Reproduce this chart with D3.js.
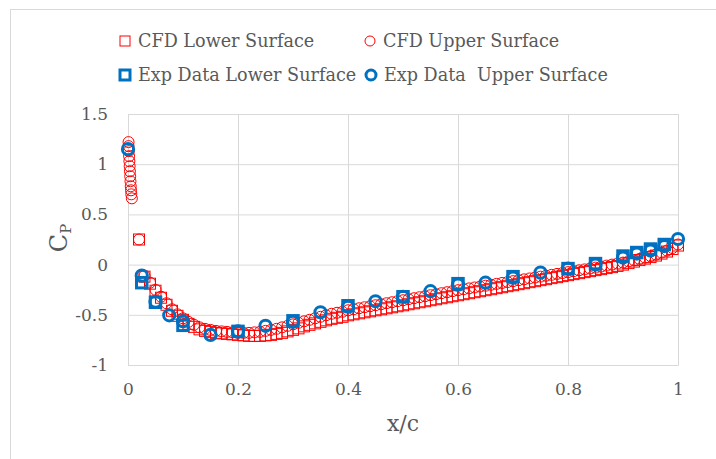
<!DOCTYPE html>
<html>
<head>
<meta charset="utf-8">
<script src="https://cdn.jsdelivr.net/npm/d3@7/dist/d3.min.js"></script>
<style>
  body { margin: 0; background: #fff; }
  svg text { font-family: "DejaVu Serif", serif; fill: #595959; }
</style>
</head>
<body>
<svg id="chart" width="716" height="459"></svg>
<script>
// CFD sample stations (x/c)
const cfdX = [0.02,0.03,0.04,0.05,0.06,0.07,0.08,0.09,0.10,0.11,0.12,0.13,0.14,0.15,0.16,0.17,0.18,0.19,0.20,
  0.21,0.22,0.23,0.24,0.25,0.26,0.27,0.28,0.29,0.30,0.31,0.32,0.33,0.34,0.35,0.36,0.37,0.38,0.39,0.40,
  0.41,0.42,0.43,0.44,0.45,0.46,0.47,0.48,0.49,0.50,0.51,0.52,0.53,0.54,0.55,0.56,0.57,0.58,0.59,0.60,
  0.61,0.62,0.63,0.64,0.65,0.66,0.67,0.68,0.69,0.70,0.71,0.72,0.73,0.74,0.75,0.76,0.77,0.78,0.79,0.80,
  0.81,0.82,0.83,0.84,0.85,0.86,0.87,0.88,0.89,0.90,0.91,0.92,0.93,0.94,0.95,0.96,0.97,0.98,0.99,1.00];

const cfdLowerCp = [0.25,-0.12,-0.19,-0.26,-0.33,-0.40,-0.46,-0.51,-0.55,-0.59,-0.62,-0.645,-0.66,-0.67,-0.68,-0.685,-0.69,-0.695,-0.70,
  -0.705,-0.71,-0.71,-0.71,-0.705,-0.70,-0.69,-0.68,-0.665,-0.65,-0.635,-0.615,-0.60,-0.585,-0.57,-0.555,-0.54,-0.53,-0.52,-0.505,
  -0.495,-0.485,-0.475,-0.465,-0.455,-0.445,-0.435,-0.425,-0.415,-0.405,-0.395,-0.385,-0.375,-0.365,-0.355,-0.345,-0.335,-0.325,-0.315,-0.305,
  -0.295,-0.285,-0.275,-0.265,-0.255,-0.245,-0.235,-0.225,-0.215,-0.205,-0.195,-0.185,-0.175,-0.165,-0.155,-0.145,-0.135,-0.125,-0.115,-0.105,
  -0.095,-0.085,-0.075,-0.065,-0.055,-0.045,-0.035,-0.025,-0.013,0.0,0.015,0.03,0.045,0.06,0.075,0.09,0.11,0.13,0.155,0.19];

// leading-edge cluster on the upper surface
const cfdUpperLeX = [0.001,0.001,0.0015,0.002,0.0025,0.003,0.0035,0.004,0.0045,0.005,0.0055,0.006,0.007];
const cfdUpperLeCp = [1.22,1.18,1.13,1.08,1.03,0.98,0.93,0.88,0.83,0.78,0.74,0.70,0.66];

const cfdUpperCp = [0.25,-0.11,-0.18,-0.25,-0.32,-0.385,-0.445,-0.495,-0.535,-0.57,-0.60,-0.625,-0.64,-0.65,-0.66,-0.665,-0.67,-0.675,-0.68,
  -0.68,-0.68,-0.675,-0.67,-0.66,-0.65,-0.64,-0.625,-0.61,-0.595,-0.58,-0.565,-0.55,-0.535,-0.52,-0.505,-0.49,-0.48,-0.47,-0.455,
  -0.445,-0.435,-0.425,-0.415,-0.405,-0.395,-0.385,-0.375,-0.365,-0.355,-0.345,-0.335,-0.325,-0.315,-0.305,-0.295,-0.285,-0.275,-0.265,-0.255,
  -0.246,-0.237,-0.228,-0.219,-0.21,-0.201,-0.192,-0.183,-0.174,-0.165,-0.156,-0.147,-0.138,-0.129,-0.12,-0.111,-0.102,-0.093,-0.084,-0.075,
  -0.066,-0.057,-0.048,-0.039,-0.03,-0.02,-0.01,0.0,0.01,0.02,0.032,0.044,0.057,0.07,0.085,0.10,0.12,0.14,0.165,0.20];

// experimental data
const expLowerX = [0.025,0.05,0.1,0.2,0.3,0.4,0.5,0.6,0.7,0.8,0.85,0.9,0.925,0.95,0.975];
const expLowerCp = [-0.18,-0.375,-0.605,-0.665,-0.56,-0.41,-0.32,-0.19,-0.12,-0.04,0.01,0.085,0.12,0.155,0.2];
const expUpperX = [0,0.025,0.05,0.075,0.1,0.15,0.2,0.25,0.3,0.35,0.4,0.45,0.5,0.55,0.6,0.65,0.7,0.75,0.8,0.85,0.9,0.925,0.95,0.975,1.0];
const expUpperCp = [1.15,-0.11,-0.37,-0.505,-0.565,-0.70,-0.665,-0.61,-0.57,-0.475,-0.42,-0.365,-0.32,-0.265,-0.2,-0.18,-0.13,-0.08,-0.04,0.0,0.07,0.11,0.14,0.185,0.255];

const xTicks = [0, 0.2, 0.4, 0.6, 0.8, 1];
const yTicks = [-1, -0.5, 0, 0.5, 1, 1.5];

const red = "#ff0000", blue = "#0070c0", grid = "#d9d9d9";
const margin = { left: 128, right: 38, top: 114, bottom: 94 };
const W = 716, H = 459;

const svg = d3.select("#chart");

// chart area border (clipped by the window)
svg.append("rect")
  .attr("x", 10.5).attr("y", 9.5)
  .attr("width", 760).attr("height", 500)
  .attr("fill", "none").attr("stroke", grid);

const x = d3.scaleLinear().domain([0, 1]).range([margin.left, W - margin.right]);
const y = d3.scaleLinear().domain([-1, 1.5]).range([H - margin.bottom, margin.top]);

// gridlines
svg.append("g")
  .attr("transform", `translate(0,${H - margin.bottom})`)
  .call(d3.axisBottom(x).tickValues(xTicks).tickSize(-(H - margin.top - margin.bottom)).tickFormat(""))
  .call(g => g.select(".domain").attr("stroke", grid))
  .call(g => g.selectAll(".tick line").attr("stroke", grid));

svg.append("g")
  .attr("transform", `translate(${margin.left},0)`)
  .call(d3.axisLeft(y).tickValues(yTicks).tickSize(-(W - margin.left - margin.right)).tickFormat(""))
  .call(g => g.select(".domain").attr("stroke", grid))
  .call(g => g.selectAll(".tick line").attr("stroke", grid));

// tick labels (plain hyphen minus, as in the original)
svg.append("g")
  .attr("transform", `translate(0,${H - margin.bottom})`)
  .call(d3.axisBottom(x).tickValues(xTicks).tickSize(0).tickPadding(18).tickFormat(d => String(d)))
  .call(g => g.select(".domain").remove())
  .call(g => g.selectAll("text").attr("font-size", 17).attr("font-family", "DejaVu Serif"));

svg.append("g")
  .attr("transform", `translate(${margin.left},0)`)
  .call(d3.axisLeft(y).tickValues(yTicks).tickSize(0).tickPadding(20).tickFormat(d => String(d)))
  .call(g => g.select(".domain").remove())
  .call(g => g.selectAll("text").attr("font-size", 17).attr("font-family", "DejaVu Serif"));

// axis titles
svg.append("text")
  .attr("x", (margin.left + W - margin.right) / 2)
  .attr("y", 431)
  .attr("text-anchor", "middle")
  .attr("font-size", 22)
  .text("x/c");

const yt = svg.append("text")
  .attr("transform", "translate(67,238) rotate(-90)")
  .attr("text-anchor", "middle")
  .attr("font-size", 24);
yt.append("tspan").text("C");
yt.append("tspan").attr("font-size", 15).attr("dy", 4).text("P");

// markers
function squares(xs, ys, size, color, sw) {
  svg.append("g").selectAll("rect")
    .data(xs.map((d, i) => [d, ys[i]]))
    .join("rect")
    .attr("x", d => x(d[0]) - size / 2)
    .attr("y", d => y(d[1]) - size / 2)
    .attr("width", size).attr("height", size)
    .attr("fill", "none").attr("stroke", color).attr("stroke-width", sw);
}
function circles(xs, ys, r, color, sw) {
  svg.append("g").selectAll("circle")
    .data(xs.map((d, i) => [d, ys[i]]))
    .join("circle")
    .attr("cx", d => x(d[0]))
    .attr("cy", d => y(d[1]))
    .attr("r", r)
    .attr("fill", "none").attr("stroke", color).attr("stroke-width", sw);
}

squares(cfdX, cfdLowerCp, 11, red, 1);
circles(cfdUpperLeX.concat(cfdX), cfdUpperLeCp.concat(cfdUpperCp), 5.5, red, 1);
squares(expLowerX, expLowerCp, 10.5, blue, 3);
circles(expUpperX, expUpperCp, 5.6, blue, 3);

// legend
const legend = [
  { label: "CFD Lower Surface", shape: "square", color: red, sw: 1, x: 125, y: 41 },
  { label: "CFD Upper Surface", shape: "circle", color: red, sw: 1, x: 370, y: 41 },
  { label: "Exp Data Lower Surface", shape: "square", color: blue, sw: 3, x: 125, y: 75 },
  { label: "Exp Data\u00a0 Upper Surface", shape: "circle", color: blue, sw: 3, x: 371, y: 75 }
];
const lg = svg.append("g").selectAll("g").data(legend).join("g")
  .attr("transform", d => `translate(${d.x},${d.y})`);
lg.filter(d => d.shape === "square").append("rect")
  .attr("x", -5).attr("y", -5).attr("width", 10).attr("height", 10)
  .attr("fill", "none").attr("stroke", d => d.color).attr("stroke-width", d => d.sw);
lg.filter(d => d.shape === "circle").append("circle")
  .attr("r", 5)
  .attr("fill", "none").attr("stroke", d => d.color).attr("stroke-width", d => d.sw);
lg.append("text")
  .attr("x", 13).attr("y", 6)
  .attr("font-size", 17.6)
  .text(d => d.label);
</script>
</body>
</html>
